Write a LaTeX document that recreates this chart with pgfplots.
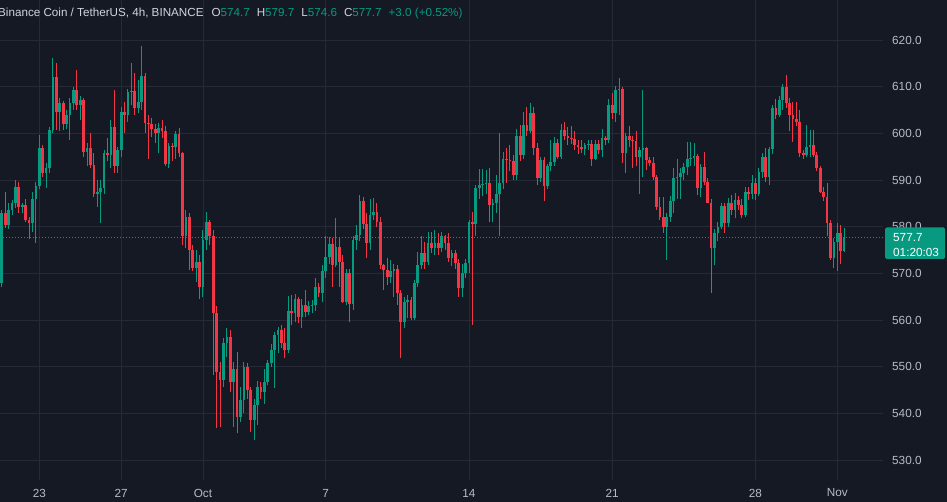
\documentclass[border=0pt]{standalone}
\usepackage{pgfplots}
\pgfplotsset{compat=1.18}
\usepackage{pgfplotstable}
\usepackage{fontspec}
\setmainfont{Liberation Sans}
\definecolor{bg}{RGB}{21,25,36}
\definecolor{gridc}{RGB}{38,42,54}
\definecolor{tvgreen}{RGB}{8,153,129}
\definecolor{tvred}{RGB}{242,54,69}
\definecolor{txt}{RGB}{184,187,196}
\definecolor{hdr}{RGB}{209,212,220}

\pgfplotstableread{
i o h l c
1 567.9 583.5 567.0 582.9
2 582.9 587.5 579.8 580.4
3 580.4 585.0 579.5 583.6
4 583.6 585.7 582.5 585.0
5 585.0 590.0 584.0 588.6
6 588.6 589.6 582.9 584.3
7 584.3 585.0 583.0 584.6
8 584.6 585.9 581.0 581.4
9 581.4 582.0 577.3 580.7
10 580.7 587.5 578.9 585.9
11 585.9 589.5 576.6 588.7
12 588.7 599.6 588.0 596.8
13 596.8 597.5 590.7 591.4
14 591.4 593.6 588.2 592.5
15 592.5 601.4 591.4 600.7
16 600.7 616.1 600.0 612.1
17 612.1 615.0 600.7 604.6
18 604.6 607.5 600.4 606.4
19 606.4 607.0 600.7 602.1
20 602.1 605.0 600.9 603.9
21 603.9 607.5 598.6 606.4
22 606.4 610.0 605.0 609.3
23 609.3 613.6 605.0 606.1
24 606.1 608.0 602.9 607.1
25 607.1 607.5 595.0 596.1
26 596.1 598.0 593.0 596.8
27 596.8 600.0 592.5 593.2
28 593.2 595.7 586.4 587.1
29 587.1 590.0 584.3 587.5
30 587.5 590.0 580.7 588.2
31 588.2 596.5 587.0 595.7
32 595.7 598.9 594.0 595.4
33 595.4 602.9 592.5 601.4
34 601.4 609.3 591.4 592.9
35 592.9 597.0 591.4 596.4
36 596.4 605.7 595.0 604.6
37 604.6 606.8 600.0 603.9
38 603.9 609.6 602.5 608.9
39 608.9 615.0 606.0 609.1
40 609.1 612.9 604.0 605.4
41 605.4 611.4 604.3 606.8
42 606.8 618.7 605.0 612.3
43 612.3 612.9 600.1 602.3
44 602.3 604.0 594.4 602.0
45 602.0 603.2 599.3 601.0
46 601.0 602.0 598.0 600.0
47 600.0 602.3 595.7 601.2
48 601.2 602.9 599.0 600.6
49 600.6 601.5 593.0 593.4
50 593.4 598.0 592.5 597.3
51 597.3 598.0 594.0 597.0
52 597.0 600.5 594.6 599.8
53 599.8 601.1 595.0 595.7
54 595.7 596.0 576.0 577.9
55 577.9 583.6 575.4 582.1
56 582.1 583.0 570.7 575.0
57 575.0 576.0 570.5 571.1
58 571.1 575.0 568.2 572.5
59 572.5 574.0 564.6 567.1
60 567.1 579.3 565.0 577.1
61 577.1 583.2 575.0 581.1
62 581.1 581.4 576.0 577.9
63 577.9 579.3 548.2 561.4
64 561.4 562.9 536.8 548.9
65 548.9 551.0 537.1 547.1
66 547.1 556.1 545.7 555.0
67 555.0 558.2 552.0 556.4
68 556.4 557.9 544.6 546.8
69 546.8 551.0 537.1 549.6
70 549.6 553.2 535.7 539.3
71 539.3 545.7 538.2 542.9
72 542.9 551.0 540.0 550.0
73 550.0 550.7 543.0 545.0
74 545.0 545.7 536.1 538.6
75 538.6 543.0 534.3 541.8
76 541.8 547.0 537.5 545.7
77 545.7 546.8 543.0 544.6
78 544.6 549.6 542.1 546.8
79 546.8 551.4 546.0 550.7
80 550.7 554.9 550.0 553.6
81 553.6 557.5 545.4 556.8
82 556.8 558.6 553.0 557.9
83 557.9 558.9 554.0 555.0
84 555.0 558.2 551.8 553.6
85 553.6 565.1 553.0 562.0
86 562.0 565.3 559.0 561.4
87 561.4 565.5 559.5 564.4
88 564.4 565.0 559.3 560.7
89 560.7 564.4 558.2 563.2
90 563.2 566.4 560.7 561.8
91 561.8 564.0 561.0 562.9
92 562.9 564.3 561.4 563.2
93 563.2 569.1 562.0 567.1
94 567.1 568.0 565.0 565.7
95 565.7 571.8 563.9 570.4
96 570.4 577.9 569.0 573.6
97 573.6 577.7 572.0 576.2
98 576.2 577.5 567.1 571.8
99 571.8 581.8 571.4 575.7
100 575.7 577.7 567.1 572.5
101 572.5 574.0 563.6 563.9
102 563.9 571.0 563.2 570.0
103 570.0 571.0 559.6 563.4
104 563.4 578.0 562.1 577.1
105 577.1 580.4 575.0 578.2
106 578.2 586.8 577.0 585.6
107 585.6 586.4 579.5 580.6
108 580.6 582.9 573.2 576.4
109 576.4 585.9 575.0 582.5
110 582.5 586.1 581.4 583.2
111 583.2 585.1 580.0 581.1
112 581.1 582.0 571.0 571.8
113 571.8 572.0 566.4 570.7
114 570.7 573.2 567.5 569.3
115 569.3 572.9 568.0 570.4
116 570.4 572.0 565.0 571.0
117 571.0 571.8 563.2 565.7
118 565.7 566.4 551.8 559.6
119 559.6 565.0 558.2 563.9
120 563.9 565.4 560.4 564.3
121 564.3 565.0 560.0 560.4
122 560.4 568.6 560.0 567.9
123 567.9 574.6 567.0 571.8
124 571.8 577.9 571.0 574.3
125 574.3 576.8 571.0 572.5
126 572.5 578.9 571.8 576.6
127 576.6 578.9 574.3 575.4
128 575.4 579.3 574.0 576.4
129 576.4 578.7 574.0 575.4
130 575.4 578.9 574.6 577.9
131 577.9 578.2 575.0 576.4
132 576.4 578.6 572.5 573.2
133 573.2 575.0 571.5 574.3
134 574.3 575.0 571.0 572.3
135 572.3 573.0 565.0 566.8
136 566.8 572.0 565.0 570.0
137 570.0 573.0 569.0 572.3
138 572.3 581.5 570.0 580.9
139 580.9 583.2 558.9 580.6
140 580.6 589.0 577.9 588.2
141 588.2 592.3 586.0 588.9
142 588.9 592.3 586.5 589.1
143 589.1 592.1 587.1 589.3
144 589.3 592.5 581.1 584.6
145 584.6 586.0 581.1 585.0
146 585.0 591.0 583.0 587.1
147 587.1 600.1 577.9 589.3
148 589.3 596.0 588.0 594.6
149 594.6 596.8 589.3 594.3
150 594.3 597.5 592.0 594.0
151 594.0 595.4 590.0 591.1
152 591.1 600.9 590.0 599.4
153 599.4 601.8 594.0 595.4
154 595.4 604.6 594.6 601.8
155 601.8 605.7 599.5 600.4
156 600.4 606.4 600.0 604.3
157 604.3 605.7 595.4 596.8
158 596.8 597.9 589.0 590.4
159 590.4 595.0 589.5 594.3
160 594.3 595.0 585.4 588.7
161 588.7 593.5 588.0 592.9
162 592.9 598.6 592.0 593.9
163 593.9 599.3 593.0 597.9
164 597.9 598.7 594.5 595.0
165 595.0 602.0 594.5 600.7
166 600.7 602.5 598.5 599.4
167 599.4 601.4 597.5 599.0
168 599.0 601.6 597.8 598.7
169 598.7 600.5 596.5 597.5
170 597.5 598.6 595.5 597.0
171 597.0 598.6 595.8 596.7
172 596.7 598.0 595.4 597.5
173 597.5 598.6 596.5 597.7
174 597.7 598.6 593.0 594.4
175 594.4 598.5 594.2 597.8
176 597.8 598.6 595.5 596.4
177 596.4 600.9 595.0 599.1
178 599.1 599.4 597.5 598.6
179 598.6 607.3 598.0 606.1
180 606.1 608.6 603.0 604.4
181 604.4 610.1 602.5 609.3
182 609.3 611.8 604.0 609.5
183 609.5 610.0 593.6 595.7
184 595.7 600.0 591.4 599.4
185 599.4 601.6 597.0 598.6
186 598.6 599.5 592.5 598.4
187 598.4 600.4 592.9 595.0
188 595.0 597.0 587.1 596.4
189 596.4 609.3 590.7 596.8
190 596.8 597.0 592.1 594.3
191 594.3 595.0 592.9 593.6
192 593.6 595.0 590.0 590.7
193 590.7 591.0 583.6 584.3
194 584.3 586.4 581.5 582.1
195 582.1 586.4 578.6 580.0
196 580.0 583.0 572.9 582.1
197 582.1 586.5 581.0 585.4
198 585.4 592.5 583.0 590.4
199 590.4 594.4 585.9 590.7
200 590.7 592.5 585.9 591.4
201 591.4 593.7 590.0 592.7
202 592.7 598.2 591.0 594.6
203 594.6 598.2 593.0 594.8
204 594.8 597.9 593.0 595.2
205 595.2 595.5 586.8 588.2
206 588.2 593.5 586.4 592.7
207 592.7 595.9 589.0 589.6
208 589.6 590.5 585.0 585.1
209 585.1 586.0 565.7 575.4
210 575.4 579.5 571.8 578.6
211 578.6 581.0 577.0 580.0
212 580.0 585.0 579.6 584.4
213 584.4 585.0 578.6 580.7
214 580.7 586.1 580.0 585.1
215 585.1 586.8 582.5 583.6
216 583.6 587.3 581.8 585.7
217 585.7 586.5 583.5 584.6
218 584.6 586.0 581.8 582.5
219 582.5 588.6 582.0 587.5
220 587.5 588.6 585.7 587.1
221 587.1 591.1 586.0 589.4
222 589.4 590.4 585.7 587.1
223 587.1 592.5 586.5 591.8
224 591.8 595.7 590.5 595.0
225 595.0 596.8 589.5 590.7
226 590.7 597.1 588.9 596.6
227 596.6 606.0 595.5 605.4
228 605.4 607.3 603.0 604.0
229 604.0 608.0 603.6 607.1
230 607.1 610.6 605.0 610.0
231 610.0 612.5 605.5 606.4
232 606.4 607.5 600.4 604.0
233 604.0 606.8 598.2 603.0
234 603.0 606.8 601.5 602.5
235 602.5 605.0 595.0 595.7
236 595.7 596.5 594.5 595.4
237 595.4 601.8 595.0 597.1
238 597.1 600.7 595.0 597.5
239 597.5 600.7 595.0 595.4
240 595.4 596.0 592.0 592.5
241 592.5 593.0 587.3 587.5
242 587.5 588.5 585.5 586.4
243 586.4 589.3 577.9 580.7
244 580.7 581.5 572.9 573.2
245 573.2 577.5 571.1 576.8
246 576.8 580.7 570.4 578.6
247 578.6 580.4 572.1 574.7
248 574.7 579.7 574.6 577.7
}\candles

\begin{document}
\begin{tikzpicture}
\useasboundingbox (0,0) rectangle (947bp,502bp);
\clip (0,0) rectangle (947bp,502bp);
\fill[bg] (0,0) rectangle (947bp,502bp);
\begin{axis}[
  at={(0,22bp)}, anchor=south west,
  scale only axis, width=883bp, height=480bp,
  xmin=0.475, xmax=259.4, ymin=525.714, ymax=628.571,
  axis line style={draw=none},
  tick style={draw=none},
  major tick length=0pt,
  xtick={12,36,60,96,138,180,222,246},
  xticklabels={23,27,Oct,7,14,21,28,Nov},
  ytick={530,540,...,620},
  grid=major,
  major grid style={draw=gridc, line width=0.8bp},
  yticklabel pos=right,
  ticklabel style={font=\fontsize{11.8}{13}\selectfont, text=txt},
  xticklabel style={anchor=center, yshift=-13bp, inner sep=0pt},
  yticklabel style={anchor=west, xshift=9bp, inner sep=0pt},
  scaled y ticks=false,
  /pgf/number format/fixed,
  /pgf/number format/fixed zerofill,
  /pgf/number format/precision=1,
  /pgf/number format/assume math mode=true,
]
\addplot[tvgreen, dash pattern=on 1bp off 2bp, line width=1bp, forget plot] coordinates {(0.475,577.7) (259.4,577.7)};
% wicks
\addplot[tvgreen, line width=1bp, quiver={u=0, v=\thisrow{h}-\thisrow{l}},
  restrict expr to domain={\thisrow{c}-\thisrow{o}}{0:1000}] table[x=i, y=l] {\candles};
\addplot[tvred, line width=1bp, quiver={u=0, v=\thisrow{h}-\thisrow{l}},
  restrict expr to domain={\thisrow{c}-\thisrow{o}}{-1000:-0.0001}] table[x=i, y=l] {\candles};
% bodies
\addplot[tvgreen, line width=2.7bp, quiver={u=0, v=\thisrow{c}-\thisrow{o}},
  restrict expr to domain={\thisrow{c}-\thisrow{o}}{0:1000}] table[x=i, y=o] {\candles};
\addplot[tvred, line width=2.7bp, quiver={u=0, v=\thisrow{c}-\thisrow{o}},
  restrict expr to domain={\thisrow{c}-\thisrow{o}}{-1000:-0.0001}] table[x=i, y=o] {\candles};
\end{axis}
% current price label
\fill[tvgreen, rounded corners=1.5bp] (885bp,243bp) rectangle (945bp,274.5bp);
\node[anchor=west, inner sep=0pt, text=white, font=\fontsize{11.8}{13}\selectfont] at (893bp,264bp) {577.7};
\node[anchor=west, inner sep=0pt, text=white, font=\fontsize{11.8}{13}\selectfont] at (893bp,250bp) {01:20:03};
% header
\node[anchor=base west, inner sep=0pt, font=\fontsize{11.7}{13}\selectfont] at (-2bp,485.5bp)
  {\color{hdr}Binance Coin / TetherUS, 4h, BINANCE\hspace{8bp}O\textcolor{tvgreen}{574.7}\hspace{7bp}H\textcolor{tvgreen}{579.7}\hspace{7bp}L\textcolor{tvgreen}{574.6}\hspace{7bp}C\textcolor{tvgreen}{577.7}\hspace{7bp}\textcolor{tvgreen}{+3.0 (+0.52\%)}};
\end{tikzpicture}
\end{document}
